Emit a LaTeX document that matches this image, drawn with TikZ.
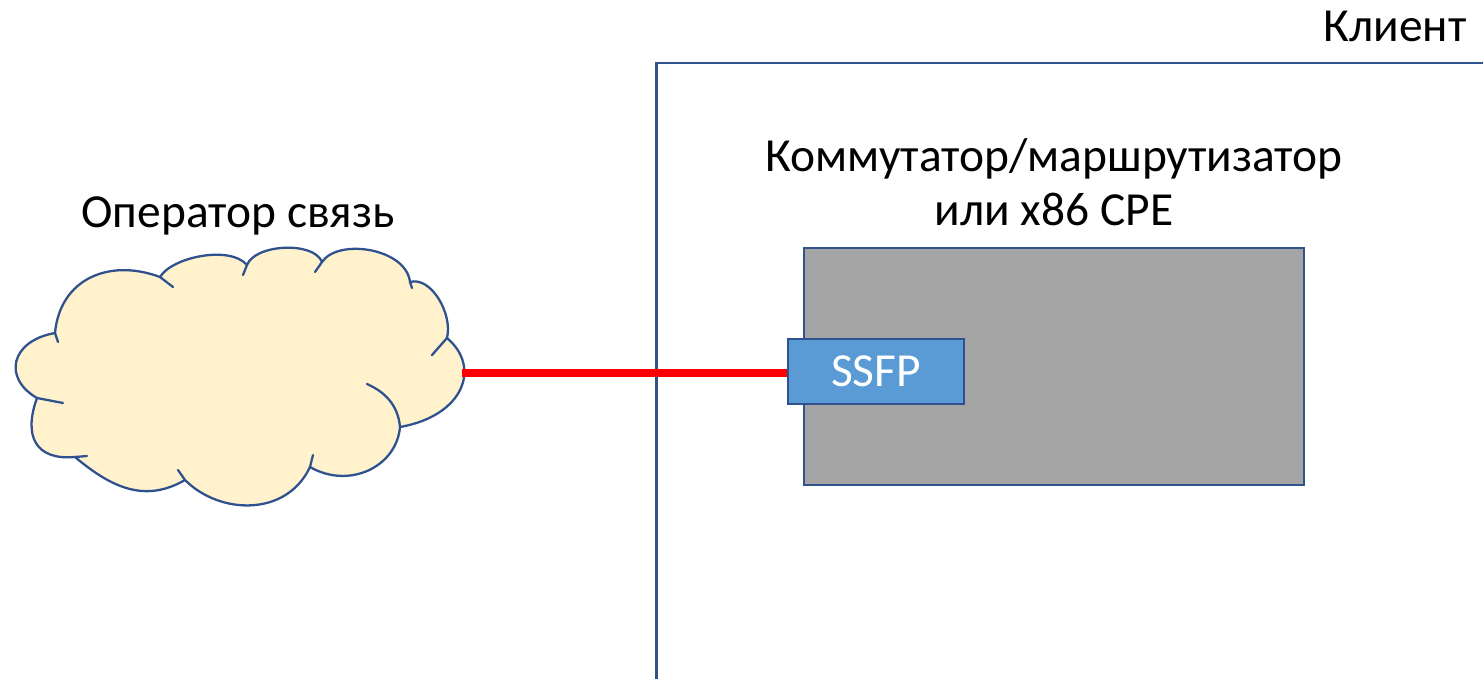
\documentclass[tikz,border=0pt]{standalone}
\usepackage{fontspec}
\setmainfont{Carlito}
\usetikzlibrary{positioning}
\definecolor{frameblue}{HTML}{2F528F}
\definecolor{boxgray}{HTML}{A5A5A5}
\definecolor{sfpblue}{HTML}{5B9BD5}
\definecolor{cloudfill}{HTML}{FFF2CC}
\tikzset{
  big/.style={font=\fontsize{27}{32}\selectfont},
  cloudline/.style={draw=frameblue, line width=1.3pt, line join=round},
}
\begin{document}
\begin{tikzpicture}[x=0.02cm,y=-0.02cm]
  \useasboundingbox (0,0) rectangle (1483,679);

  \draw[frameblue, line width=1.7pt] (656,700) |- (1500,63);
  \node[big, inner sep=0pt, anchor=base east] (klient) at (1467,42) {Клиент};

  \node[draw=frameblue, line width=1.1pt, fill=boxgray, minimum width=10cm, minimum height=4.74cm] (cpe) at (1054,366.5) {};
  \node[big, align=center] (cpelabel) at (1054,182) {Коммутатор/маршрутизатор\\[-1pt]или x86 CPE};
  \node[big, draw=frameblue, line width=1.5pt, fill=sfpblue, text=white, minimum width=3.52cm, minimum height=1.3cm] (ssfp) at (876,371.5) {SSFP};

  % cloud
  \filldraw[cloudline, fill=cloudfill] (55,333)
    .. controls (60,279) and (109,258) .. (160,277)
    .. controls (172,257) and (230,245) .. (247,265)
    .. controls (255,244) and (314,241) .. (322,262)
    .. controls (338,238) and (406,248) .. (410,282)
    .. controls (431,276) and (453,314) .. (447,338)
    .. controls (481.5,367) and (464,415.7) .. (400,427)
    .. controls (396.5,467) and (349,489.5) .. (310,467)
    .. controls (286.7,516.8) and (220,515) .. (185,480)
    .. controls (146,502.5) and (113,489) .. (75,457)
    .. controls (35,460.5) and (23.3,435.6) .. (37,398)
    .. controls (2.4,378) and (10.7,340.8) .. (55,333)
    -- cycle;
  \draw[cloudline, line cap=round] (55,333) -- (58,342) (160,277) -- (173,287)
    (247,265) -- (243,275) (322,262) -- (315,272) (410,282) -- (412,288)
    (447,338) -- (432,355) (310,467) -- (313,455) (185,480) -- (178,470)
    (75,457) -- (87,456) (37,398) -- (63,403);
  \draw[cloudline, line cap=round] (400,427) .. controls (398,405) and (385,392) .. (367,384);
  \coordinate (op) at (462,373);
  \node[big] (oplabel) at (238,216) {Оператор связь};

  \draw[red, line width=4pt] (op) -- (op -| ssfp.west);
\end{tikzpicture}
\end{document}
